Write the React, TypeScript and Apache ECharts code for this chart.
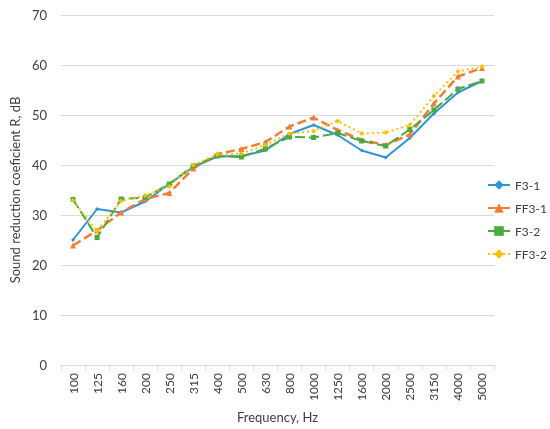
import React, { useEffect, useRef } from "react";
import * as echarts from "echarts";

const categories = ["100", "125", "160", "200", "250", "315", "400", "500", "630", "800", "1000", "1250", "1600", "2000", "2500", "3150", "4000", "5000"];
const f31 = [25.0, 31.2, 30.5, 32.7, 36.2, 39.6, 41.7, 41.8, 42.9, 46.2, 48.0, 46.0, 42.9, 41.5, 45.4, 50.3, 54.5, 56.8];
const ff31 = [23.9, 26.9, 30.5, 33.2, 34.4, 39.3, 42.2, 43.2, 44.6, 47.7, 49.5, 47.0, 45.0, 44.0, 46.1, 52.3, 57.7, 59.4];
const f32 = [33.1, 25.5, 33.2, 33.5, 36.2, 39.8, 41.8, 41.6, 43.3, 45.6, 45.5, 46.4, 44.8, 43.8, 47.1, 51.0, 55.2, 56.8];
const ff32 = [32.9, 26.8, 32.8, 33.9, 35.7, 40.0, 42.1, 42.3, 44.0, 46.3, 46.8, 48.8, 46.3, 46.5, 48.0, 53.8, 58.7, 59.7];
const yTicks = { min: 0, max: 70, interval: 10 };

const font = "Lato, 'Open Sans', sans-serif";

export default function App() {
  const ref = useRef<HTMLDivElement>(null);
  useEffect(() => {
    if (!ref.current) return;
    const chart = echarts.init(ref.current, null, { renderer: "svg" });
    const mk = (name: string, data: number[], color: string, type: any, symbol: string, symbolSize: number, width: number) => ({
      name,
      type: "line",
      data,
      symbol,
      symbolSize,
      showSymbol: true,
      itemStyle: { color },
      lineStyle: { color, width, type },
    });
    chart.setOption({
      animation: false,
      textStyle: { fontFamily: font },
      grid: { left: 48, right: 56, top: 15, bottom: 64, containLabel: false },
      legend: {
        orient: "vertical",
        left: 482,
        top: 174,
        itemWidth: 22,
        itemHeight: 12,
        itemGap: 11,
        textStyle: { fontSize: 12, color: "#404040", fontFamily: font },
        data: ["F3-1", "FF3-1", "F3-2", "FF3-2"],
      },
      xAxis: {
        type: "category",
        data: categories,
        boundaryGap: true,
        name: "Frequency, Hz",
        nameLocation: "middle",
        nameGap: 45,
        nameTextStyle: { fontSize: 13, color: "#404040", fontFamily: font },
        axisLine: { lineStyle: { color: "#d9d9d9" } },
        axisTick: { show: true, alignWithLabel: false, length: 5, lineStyle: { color: "#d9d9d9" } },
        axisLabel: { rotate: 90, fontSize: 12, color: "#404040", margin: 8, interval: 0, fontFamily: font },
        splitLine: { show: false },
      },
      yAxis: {
        type: "value",
        min: yTicks.min,
        max: yTicks.max,
        interval: yTicks.interval,
        name: "Sound reduction coeficient R, dB",
        nameLocation: "middle",
        nameGap: 36,
        nameTextStyle: { fontSize: 13, color: "#404040", fontFamily: font },
        axisLine: { show: false },
        axisTick: { show: false },
        axisLabel: { fontSize: 13, color: "#404040", margin: 14, fontFamily: font },
        splitLine: { lineStyle: { color: "#d9d9d9", width: 1 } },
      },
      series: [
        mk("F3-1", f31, "#2f95d5", "solid", "diamond", 4, 2),
        mk("FF3-1", ff31, "#f07e34", [9, 4], "triangle", 6, 2.5),
        mk("F3-2", f32, "#4ca93b", [10, 4], "rect", 5, 2),
        mk("FF3-2", ff32, "#ffc000", [2, 3], "diamond", 5, 2),
      ],
    });
    return () => chart.dispose();
  }, []);
  return <div ref={ref} style={{ position: "fixed", left: 0, top: 0, width: 550, height: 429 }} />;
}
